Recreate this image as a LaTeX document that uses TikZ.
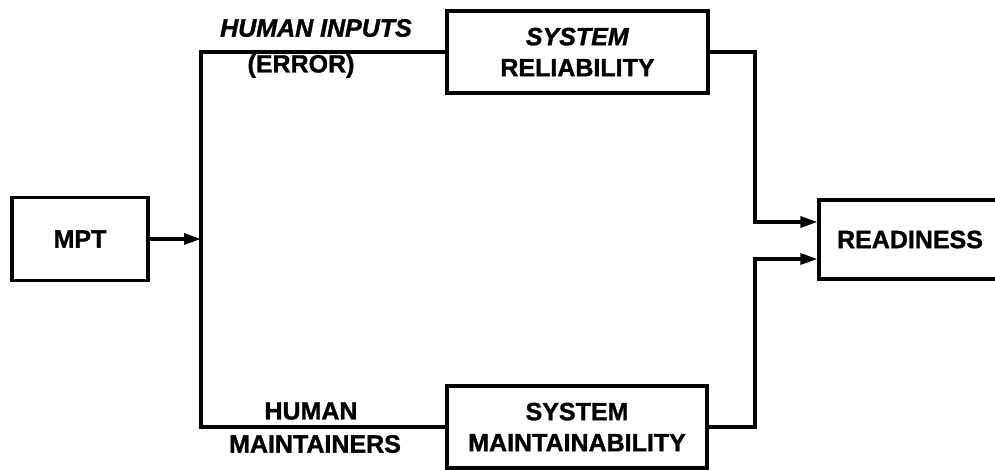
\documentclass[tikz,border=0pt]{standalone}
\usepackage{fontspec}
\setmainfont{Liberation Sans}
% a heavier face for all labels
\newfontfamily\heavy{Liberation Sans Bold}[FakeBold=1.3,
  ItalicFont=Liberation Sans Bold Italic, ItalicFeatures={FakeBold=1.3}]
\usetikzlibrary{arrows.meta}
\begin{document}
\begin{tikzpicture}[x=1pt,y=-1pt,
  line width=3.2pt,
  txt/.style={font=\heavy\fontsize{25}{31}\selectfont, inner sep=0pt, align=center},
  blk/.style={draw, txt, line join=miter},
  arr/.style={-{Triangle[length=17pt,width=11pt]}}]
\useasboundingbox (0,0) rectangle (995,470);
\clip (0,0) rectangle (995,470);

% blocks
\node[blk, minimum width=136pt, minimum height=83pt] (mpt) at (80,239) {MPT};
\node[blk, minimum width=261pt, minimum height=82pt] (rel) at (577.5,52) {\textit{SYSTEM}\\RELIABILITY};
\node[blk, minimum width=260pt, minimum height=82pt] (mnt) at (577,427) {SYSTEM\\MAINTAINABILITY};
\node[blk, minimum width=182pt, minimum height=79pt] (rdy) at (910,239.5) {READINESS};

% branch labels
\node[txt] (hin) at (316,28) {\textit{HUMAN INPUTS}};
\node[txt] (err) at (301,66) {(ERROR)};
\node[txt] (hum) at (311,411) {HUMAN};
\node[txt] (mtr) at (315,444) {MAINTAINERS};

% junction points
\coordinate (bot) at (201,427);
\coordinate (ra) at (755,222);
\coordinate (rb) at (755,259);

% connectors
\draw[arr] (mpt.east) -- (mpt.east -| bot);
\draw (rel.west) -| (bot) -- (mnt.west);
\draw[arr] (rel.east) -| (ra) -- (ra -| rdy.west);
\draw[arr] (mnt.east) -| (rb) -- (rb -| rdy.west);
\end{tikzpicture}
\end{document}
